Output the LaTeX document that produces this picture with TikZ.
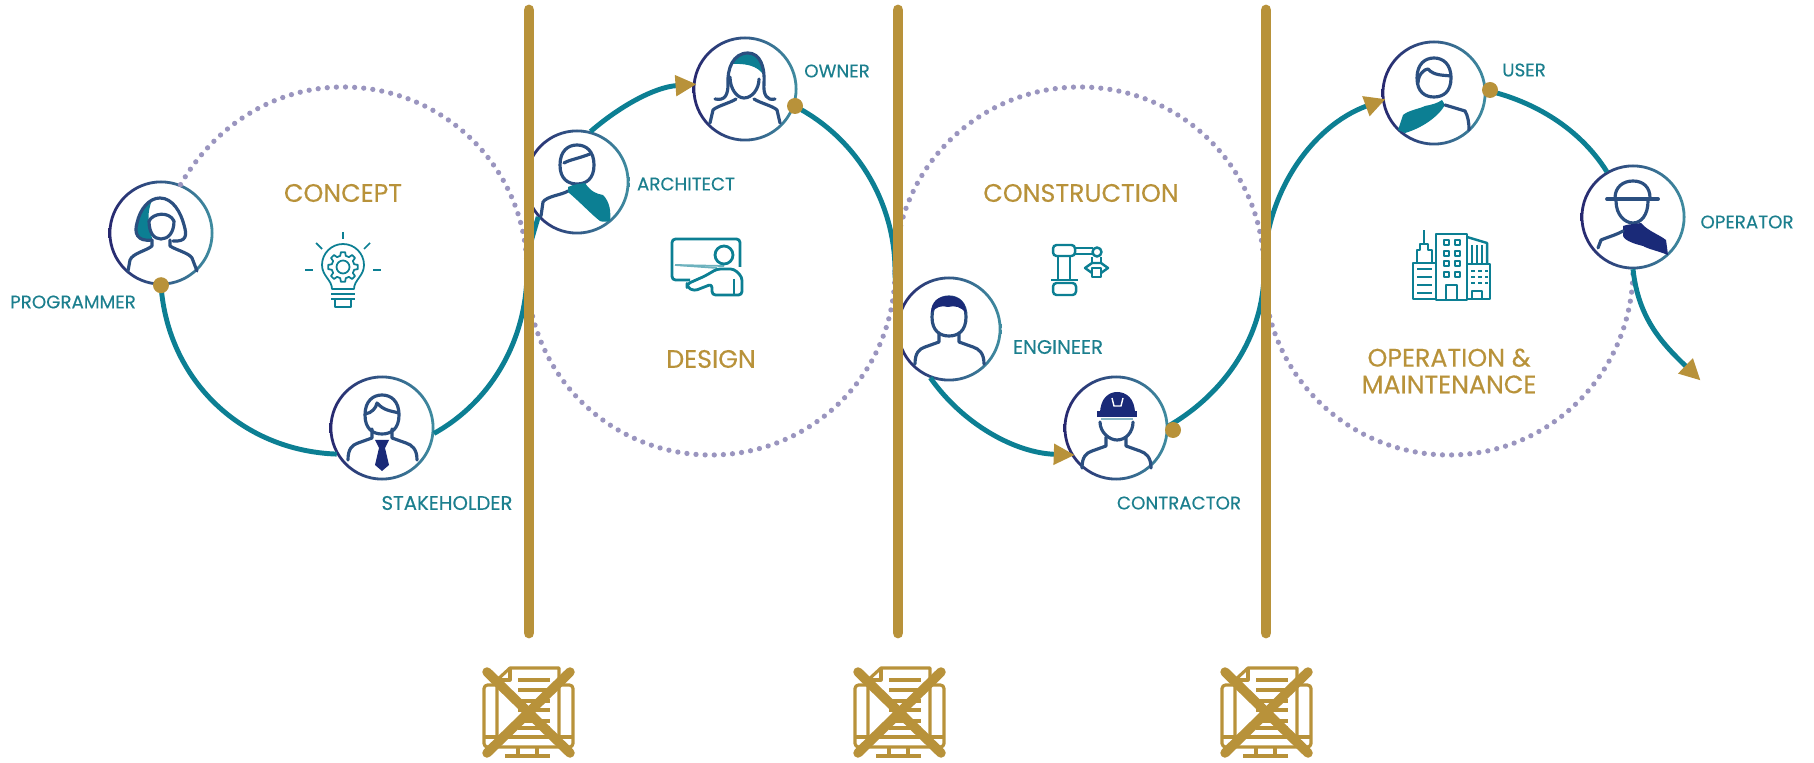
\documentclass[tikz,border=0pt]{standalone}
\usepackage{fontspec}
\setmainfont{Poppins}[FakeBold=.3]
\usepackage{tikz}
\usetikzlibrary{arrows.meta}
\definecolor{gold}{HTML}{B8923A}
\definecolor{flowteal}{HTML}{0C7F93}
\definecolor{labelteal}{HTML}{1C7F8E}
\definecolor{dotgrey}{HTML}{9A95BF}
\definecolor{ringnavy}{HTML}{27286F}
\definecolor{ringteal}{HTML}{3F8CA0}
\definecolor{iconblue}{HTML}{2B4F80}
\definecolor{darknavy}{HTML}{1A2A78}
\tikzset{>=stealth}
\tikzset{persona/.style={circle,fill=white,inner sep=0pt,minimum size=1.03cm}}
\tikzset{hubdot/.style={circle,fill=gold,inner sep=0pt,minimum size=.16cm}}
\tikzset{flow/.style={flowteal,line width=1.4pt}}
\tikzset{flowtip/.style={flow,shorten >=-1pt,-{Triangle[length=2.1mm,width=2mm,color=gold,fill=gold]}}}
\tikzset{ringdots/.style={dotgrey,line width=1.5pt,line cap=round,dash pattern=on 0pt off 2.6pt}}
\tikzset{gatebar/.style={gold,line width=3.1pt,line cap=round}}
\tikzset{rolelabel/.style={labelteal,inner sep=0pt,font=\fontsize{5.2}{6}\selectfont}}
\tikzset{widerole/.style={labelteal,inner sep=0pt,font=\fontsize{5.6}{6}\selectfont}}
\tikzset{phaselabel/.style={gold,inner sep=0pt,align=center,font=\fontsize{7.2}{7.6}\selectfont}}
\tikzset{iconline/.style={iconblue,line width=.9pt,line join=round,line cap=round}}
\tikzset{thinline/.style={flowteal,line width=.5pt,line join=round}}
\tikzset{goldline/.style={gold,line width=.9pt,line join=round}}
\newcommand{\personring}[1]{\shade[left color=ringnavy,right color=ringteal,even odd rule] (#1) circle (.525) (#1) circle (.497);}
\newcommand{\manbust}[1][0]{\draw[iconline,yshift=#1cm] (-.34,-.35) .. controls (-.34,-.24) and (-.30,-.20) .. (-.24,-.18) -- (-.10,-.13) -- (-.10,-.04);
\draw[iconline,yshift=#1cm] (.10,-.04)--(.10,-.13)--(.24,-.18) .. controls (.30,-.20) and (.35,-.24) .. (.35,-.35);}
\newcommand{\manface}[1][0]{\draw[iconline,yshift=#1cm] (-.17,.12) .. controls (-.17,-.02) and (-.09,-.07) .. (0,-.07) .. controls (.09,-.07) and (.17,-.02) .. (.17,.12) .. controls (.17,.26) and (.09,.32) .. (0,.32) .. controls (-.09,.32) and (-.17,.26) .. (-.17,.12);}
\newcommand{\crossedsheet}[1]{\begin{scope}[shift={(#1)}]
\draw[goldline,rounded corners=1pt] (-.31,.25)--(-.44,.25)--(-.44,-.37)--(.45,-.37)--(.45,.25)--(.31,.25);
\draw[goldline] (-.44,-.27)--(.45,-.27);
\draw[goldline] (-.31,-.27)--(-.31,.30)--(-.18,.42)--(.31,.42)--(.31,-.27);
\draw[goldline] (-.31,.30)--(-.18,.30)--(-.18,.42);
\foreach \y in {.30,.20,.09,0,-.11,-.18} \draw[gold,line width=1pt] (-.10,\y)--(.22,\y);
\draw[goldline] (-.10,-.37)--(-.10,-.46);
\draw[goldline] (.09,-.37)--(.09,-.46);
\draw[gold,line width=1.2pt] (-.23,-.46)--(.22,-.46);
\draw[gold,line width=2.7pt,line cap=round] (-.41,.38)--(.42,-.43);
\draw[gold,line width=2.7pt,line cap=round] (.42,.38)--(-.41,-.43);
\end{scope}}
\begin{document}
\begin{tikzpicture}
\useasboundingbox (0,0) rectangle (18.14,7.62);
\coordinate (cross1) at (5.27,4.91);
\coordinate (cross2) at (8.95,4.91);
\coordinate (cross3) at (12.64,4.91);
\coordinate (conceptN) at (3.43,6.75);
\coordinate (designS) at (7.11,3.07);
\coordinate (constructionN) at (10.80,6.75);
\coordinate (operationS) at (14.49,3.07);
\coordinate (exitend) at (16.98,3.84);
\coordinate (gatetop1) at (5.29,7.52);
\coordinate (gatefoot1) at (5.29,1.29);
\coordinate (gatetop2) at (8.98,7.52);
\coordinate (gatefoot2) at (8.98,1.29);
\coordinate (gatetop3) at (12.66,7.52);
\coordinate (gatefoot3) at (12.66,1.29);
\node [persona] (programmer) at (1.61,5.29) {};
\node [persona] (stakeholder) at (3.82,3.34) {};
\node [persona] (architect) at (5.77,5.80) {};
\node [persona] (owner) at (7.45,6.73) {};
\node [persona] (engineer) at (9.49,4.33) {};
\node [persona] (contractor) at (11.16,3.34) {};
\node [persona] (user) at (14.34,6.69) {};
\node [persona] (operator) at (16.33,5.45) {};
\personring{programmer}
\personring{stakeholder}
\personring{architect}
\personring{owner}
\personring{engineer}
\personring{contractor}
\personring{user}
\personring{operator}
\draw [ringdots] (programmer.68) to[out=60,in=180,looseness=.92] (conceptN) to[out=0,in=90] (cross1);
\draw [ringdots] (cross1) to[out=270,in=180] (designS) to[out=0,in=270] (cross2);
\draw [ringdots] (cross2) to[out=90,in=180] (constructionN) to[out=0,in=90] (cross3);
\draw [ringdots] (cross3) to[out=270,in=180] (operationS) to[out=0,in=270] (operator.south);
\draw [flow] (programmer.south) to[out=274,in=178] (stakeholder.210);
\draw [flow] (stakeholder.-6) to[out=29,in=270,looseness=.915] (cross1);
\draw [flow] (cross1) to[out=90,in=254,looseness=.9] (architect.222);
\draw [flowtip] (architect.75) to[out=41,in=184,looseness=.874] (owner.175);
\draw [flow] (owner.-19) to[out=-27,in=90,looseness=.915] (cross2);
\draw [flow] (cross2) to[out=270,in=102,looseness=.9] (engineer.159);
\draw [flowtip] (engineer.249) to[out=305,in=178,looseness=.9] (contractor.211);
\draw [flow] (contractor.2) to[out=30,in=270,looseness=.915] (cross3);
\draw [flowtip] (cross3) to[out=90,in=200,looseness=.935] (user.188);
\draw [flow] (user.3) to[out=-13,in=122,looseness=.885] (operator.120);
\draw [flowtip] (operator.south) to[out=-84,in=136] (exitend);
\begin{scope}[shift={(programmer)}]
\fill [flowteal] (-.09,-.07) .. controls (-.24,-.09) and (-.27,.0) .. (-.24,.10) .. controls (-.22,.2) and (-.17,.28) .. (-.09,.33) .. controls (-.14,.2) and (-.13,.1) .. (-.10,.04) -- cycle;
\draw [iconline] (-.09,-.07) .. controls (-.24,-.09) and (-.27,.0) .. (-.24,.10) .. controls (-.21,.24) and (-.12,.35) .. (-.01,.35) .. controls (.12,.35) and (.2,.2) .. (.23,.08) .. controls (.26,-.02) and (.26,-.09) .. (.12,-.08);
\draw [iconline] (-.12,.12) .. controls (-.12,0) and (-.07,-.06) .. (0,-.06) .. controls (.07,-.06) and (.13,0) .. (.13,.12);
\draw [iconline] (-.12,.12) .. controls (-.08,.2) and (.08,.22) .. (.13,.12);
\draw [iconline] (-.33,-.38) -- (-.31,-.27) .. controls (-.28,-.2) and (-.15,-.18) .. (-.09,-.13) -- (-.09,-.07);
\draw [iconline] (.09,-.07) -- (.09,-.13) .. controls (.15,-.17) and (.28,-.2) .. (.31,-.25) -- (.36,-.38);
\end{scope}
\begin{scope}[shift={(stakeholder)}]
\manface[.01]
\manbust[.03]
\draw [iconline] (-.17,.14) .. controls (-.1,.15) and (-.06,.2) .. (-.05,.25) .. controls (.02,.17) and (.1,.17) .. (.17,.15);
\fill [darknavy] (-.07,-.12)--(.07,-.12)--(.03,-.2)--(.07,-.37)--(0,-.43)--(-.07,-.37)--(-.03,-.2)--cycle;
\end{scope}
\begin{scope}[shift={(architect)}]
\manface[.05]
\draw [iconline] (-.36,-.34) -- (-.34,-.2) .. controls (-.3,-.14) and (-.15,-.13) .. (-.09,-.09);
\fill [flowteal] (-.09,-.05) .. controls (-.03,-.02) and (.03,-.02) .. (.08,-.01) .. controls (.14,-.1) and (.2,-.12) .. (.26,-.13) .. controls (.33,-.2) and (.34,-.3) .. (.33,-.39) .. controls (.3,-.4) and (.25,-.4) .. (.23,-.39) .. controls (.15,-.33) and (.05,-.22) .. (-.09,-.1) -- cycle;
\draw [iconline] (-.13,.19) .. controls (-.08,.22) and (.03,.24) .. (.13,.28);
\end{scope}
\begin{scope}[shift={(owner)}]
\fill [flowteal] (-.14,.25) .. controls (-.1,.34) and (-.02,.36) .. (.03,.36) .. controls (.14,.36) and (.2,.28) .. (.2,.12) .. controls (.15,.2) and (.08,.26) .. (-.14,.25);
\draw [iconline] (-.3,-.1) .. controls (-.2,-.12) and (-.17,-.06) .. (-.17,.05) .. controls (-.18,.2) and (-.12,.36) .. (.03,.36) .. controls (.15,.36) and (.2,.22) .. (.19,.06) .. controls (.18,-.06) and (.22,-.12) .. (.3,-.1);
\draw [iconline] (-.15,.12) .. controls (-.15,0) and (-.08,-.09) .. (-.01,-.09) .. controls (.07,-.09) and (.14,0) .. (.14,.1);
\draw [iconline] (-.35,-.34) -- (-.32,-.21) .. controls (-.28,-.17) and (-.15,-.14) .. (-.09,-.1);
\draw [iconline] (.09,-.1) .. controls (.15,-.14) and (.28,-.17) .. (.32,-.21) -- (.35,-.34);
\end{scope}
\begin{scope}[shift={(engineer)}]
\manface
\fill [darknavy] (-.18,.16) .. controls (-.18,.28) and (-.1,.33) .. (-.01,.33) .. controls (.09,.33) and (.17,.28) .. (.17,.16) .. controls (.12,.22) and (.06,.24) .. (-.01,.22) .. controls (-.08,.24) and (-.13,.22) .. (-.18,.16);
\manbust
\end{scope}
\begin{scope}[shift={(contractor)}]
\fill [darknavy] (-.16,.14) .. controls (-.16,.3) and (-.07,.36) .. (.01,.36) .. controls (.1,.36) and (.19,.3) .. (.19,.14) -- cycle;
\draw [darknavy,line width=1.5pt] (-.19,.14)--(.21,.14);
\draw [ringteal!60,line width=.5pt] (-.15,.09)--(.17,.09);
\draw [white,line width=.4pt] (-.04,.3) -- (-.02,.22) -- (.05,.22) -- (.07,.3);
\draw [iconline] (-.16,.06) .. controls (-.16,-.04) and (-.07,-.12) .. (.01,-.12) .. controls (.1,-.12) and (.17,-.04) .. (.17,.06);
\manbust[-.05]
\end{scope}
\begin{scope}[shift={(user)}]
\manface[.03]
\draw [iconline] (-.16,.1) .. controls (-.16,.18) and (-.1,.24) .. (-.06,.24) .. controls (.0,.17) and (.1,.18) .. (.17,.17);
\fill [flowteal] (-.36,-.37) -- (-.31,-.22) .. controls (-.25,-.17) and (-.15,-.16) .. (-.09,-.13) .. controls (-.03,-.12) and (.04,-.1) .. (.08,-.07) -- (.11,-.12) .. controls (.04,-.24) and (-.12,-.35) .. (-.29,-.4) -- cycle;
\draw [iconline] (.11,-.12) -- (.31,-.18) .. controls (.34,-.23) and (.35,-.3) .. (.35,-.37);
\end{scope}
\begin{scope}[shift={(operator)}]
\draw [iconline] (-.18,.19) .. controls (-.18,.3) and (-.1,.36) .. (0,.36) .. controls (.1,.36) and (.17,.3) .. (.17,.19);
\draw [iconline,line width=1.1pt] (-.26,.18)--(.25,.18);
\draw [iconline] (-.17,.16) .. controls (-.17,.02) and (-.08,-.06) .. (0,-.06) .. controls (.08,-.06) and (.15,.02) .. (.15,.16);
\fill [darknavy] (-.1,-.09) .. controls (-.05,-.07) and (.03,-.07) .. (.08,-.06) .. controls (.15,-.14) and (.25,-.17) .. (.33,-.23) -- (.35,-.38) .. controls (.25,-.34) and (.15,-.32) .. (.1,-.29) .. controls (.02,-.27) and (-.08,-.24) .. (-.1,-.19) -- cycle;
\draw [iconline] (-.35,-.31) -- (-.32,-.23) .. controls (-.25,-.2) and (-.17,-.18) .. (-.1,-.14);
\end{scope}
\node [hubdot] (programmerdot) at (programmer.south) {};
\node [hubdot] (ownerdot) at (7.95,6.56) {};
\node [hubdot] (contractordot) at (11.73,3.32) {};
\node [hubdot] (userdot) at (14.90,6.72) {};
\draw [gatebar] (gatetop1)--(gatefoot1);
\draw [gatebar] (gatetop2)--(gatefoot2);
\draw [gatebar] (gatetop3)--(gatefoot3);
\crossedsheet{5.28,.52}
\crossedsheet{8.99,.52}
\crossedsheet{12.66,.52}
\node [phaselabel] (conceptlabel) at (3.43,5.69) {CONCEPT};
\node [phaselabel] (designlabel) at (7.11,4.03) {DESIGN};
\node [phaselabel] (constructionlabel) at (10.81,5.69) {CONSTRUCTION};
\node [phaselabel] (operationlabel) at (14.49,3.91) {OPERATION \&\\MAINTENANCE};
\node [rolelabel] (programmerlabel) at (.73,4.60) {PROGRAMMER};
\node [widerole] (stakeholderlabel) at (4.47,2.59) {STAKEHOLDER};
\node [rolelabel] (architectlabel) at (6.86,5.78) {ARCHITECT};
\node [rolelabel] (ownerlabel) at (8.37,6.91) {OWNER};
\node [widerole] (engineerlabel) at (10.58,4.15) {ENGINEER};
\node [rolelabel] (contractorlabel) at (11.79,2.59) {CONTRACTOR};
\node [rolelabel] (userlabel) at (15.24,6.92) {USER};
\node [rolelabel] (operatorlabel) at (17.47,5.40) {OPERATOR};
\begin{scope}[shift={(3.43,4.92)}]
\draw [thinline] (-.11,-.19) .. controls (-.11,-.10) and (-.21,-.06) .. (-.21,.05) arc[start angle=180,end angle=0,radius=.21] .. controls (.21,-.06) and (.11,-.10) .. (.11,-.19) -- cycle;
\draw [thinline] (-.12,-.24)--(.12,-.24);
\draw [thinline] (-.12,-.29)--(.12,-.29);
\draw [thinline] (-.08,-.29) rectangle (.08,-.37);
\draw [thinline] (0,.38)--(0,.31);
\draw [thinline] (-.27,.27)--(-.21,.21);
\draw [thinline] (.27,.27)--(.21,.21);
\draw [thinline] (-.38,0)--(-.30,0);
\draw [thinline] (.30,0)--(.38,0);
\draw [thinline,yshift=.03cm] (0,0) circle (.065);
\draw [thinline,yshift=.03cm] (-8:.15) \foreach \a in {0,45,...,315} {-- (\a-8:.15) -- (\a+8:.15) -- (\a+14:.115) -- (\a+31:.115)} -- cycle;
\end{scope}
\begin{scope}[shift={(7.07,4.95)}]
\draw [thinline,line width=.8pt,rounded corners=1pt] (.33,-.0)--(.33,.28)--(-.35,.28)--(-.35,-.13)--(-.17,-.13);
\draw [thinline,flowteal!60] (-.32,.02)--(.1,-.01);
\draw [thinline,flowteal!60] (-.32,.02)--(.17,.01);
\draw [thinline,line width=.8pt,fill=white] (.17,.12) circle (.09);
\draw [thinline,line width=.8pt,rounded corners=1pt,fill=white] (-.2,-.17)--(-.02,-.09)--(.1,-.02)--(.27,-.02)--(.35,-.1)--(.35,-.28)--(.05,-.28)--(.05,-.17)--(-.13,-.24)--(-.2,-.2)--cycle;
\draw [thinline,line width=.8pt] (.27,-.12)--(.27,-.28);
\end{scope}
\begin{scope}[shift={(10.80,4.92)}]
\draw [thinline,rounded corners=1pt,line width=.7pt] (-.27,-.25) rectangle (-.04,-.13);
\draw [thinline,line width=.7pt] (-.29,-.10)--(-.02,-.10);
\draw [thinline,line width=.7pt] (-.22,-.10)--(-.22,.13);
\draw [thinline,line width=.7pt] (-.10,-.10)--(-.10,.13);
\draw [thinline,rounded corners=1pt,line width=.7pt] (-.27,.14) rectangle (-.05,.25);
\draw [thinline,line width=.7pt] (-.05,.22)--(.13,.22);
\draw [thinline,line width=.7pt] (-.05,.16)--(.13,.16);
\draw [thinline,line width=.7pt] (.17,.18) circle (.045);
\draw [thinline,line width=.7pt] (.12,.13)--(.12,.07);
\draw [thinline,line width=.7pt] (.21,.13)--(.21,.07);
\draw [thinline,line width=.7pt] (.05,.02)--(.12,.07)--(.21,.07)--(.28,.02)--(.21,-.03)--(.12,-.03)--cycle;
\draw [thinline,line width=.7pt,fill=white] (.12,.02) rectangle (.21,-.07);
\end{scope}
\begin{scope}[shift={(14.50,4.95)}]
\draw [thinline,line width=.7pt] (-.37,.04) rectangle (-.14,-.32);
\draw [thinline,line width=.7pt] (-.33,.04)--(-.33,.17)--(-.30,.17)--(-.30,.23)--(-.22,.23)--(-.22,.17)--(-.18,.17)--(-.18,.04);
\draw [thinline,line width=.7pt] (-.26,.23)--(-.26,.37);
\foreach \y in {-.02,-.10,-.18,-.26} \draw [thinline,line width=.7pt] (-.33,\y)--(-.18,\y);
\draw [thinline,line width=.7pt] (-.14,.33) rectangle (.17,-.33);
\foreach \y in {.22,.11,.01,-.10} {\draw [thinline,line width=.6pt] (-.06,\y) rectangle +(.05,.05); \draw [thinline,line width=.6pt] (.05,\y) rectangle +(.05,.05);}
\draw [thinline,line width=.7pt] (-.04,-.33)--(-.04,-.18)--(.07,-.18)--(.07,-.33);
\draw [thinline,line width=.7pt] (.17,.30)--(.37,.24)--(.37,.03);
\foreach \x in {.22,.27,.32} \draw [thinline,line width=.6pt] (\x,.22)--(\x,.03);
\draw [thinline,line width=.7pt] (.17,.03) rectangle (.40,-.32);
\foreach \y in {-.04,-.10,-.16} \draw [flowteal,line width=.8pt,dash pattern=on 1pt off 1pt] (.21,\y)--(.38,\y);
\draw [thinline,line width=.7pt] (.22,-.32)--(.22,-.24)--(.32,-.24)--(.32,-.32);
\end{scope}
\end{tikzpicture}
\end{document}
